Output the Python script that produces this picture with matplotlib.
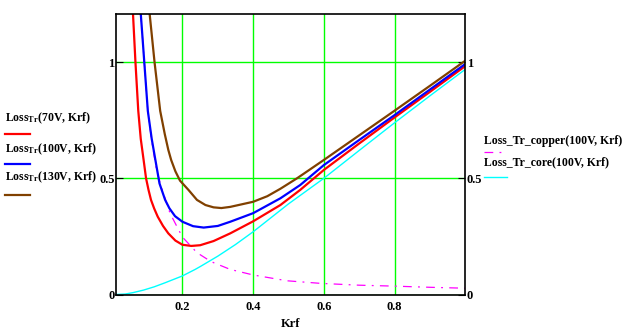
import matplotlib
matplotlib.use('Agg')
import matplotlib.pyplot as plt
from matplotlib.lines import Line2D

# values
x_70 = [0.060, 0.067, 0.075, 0.082, 0.090, 0.097, 0.104, 0.111, 0.120, 0.130,
        0.145, 0.160, 0.180, 0.200, 0.225, 0.250, 0.288, 0.335, 0.400, 0.477,
        0.533, 0.600, 0.700, 0.800, 0.900, 1.000]
loss_70 = [1.21, 1.00, 0.79, 0.67, 0.58, 0.50, 0.45, 0.407, 0.37, 0.335,
           0.295, 0.263, 0.232, 0.214, 0.209, 0.212, 0.230, 0.263, 0.315, 0.385,
           0.450, 0.536, 0.650, 0.762, 0.872, 0.983]

x_100 = [0.082, 0.092, 0.102, 0.113, 0.125, 0.135, 0.151, 0.163, 0.179, 0.200,
         0.230, 0.260, 0.300, 0.335, 0.400, 0.477, 0.533, 0.600, 0.700, 0.800,
         0.900, 1.000]
loss_100 = [1.21, 1.00, 0.79, 0.67, 0.565, 0.478, 0.407, 0.371, 0.337, 0.313,
            0.294, 0.288, 0.295, 0.313, 0.350, 0.414, 0.471, 0.557, 0.665, 0.772,
            0.882, 0.992]

x_130 = [0.107, 0.121, 0.137, 0.150, 0.160, 0.168, 0.180, 0.193, 0.217, 0.241,
         0.265, 0.288, 0.310, 0.335, 0.400, 0.440, 0.477, 0.524, 0.600, 0.700,
         0.800, 0.900, 1.000]
loss_130 = [1.21, 1.00, 0.79, 0.69, 0.622, 0.579, 0.530, 0.490, 0.450, 0.407,
            0.385, 0.375, 0.372, 0.377, 0.399, 0.423, 0.455, 0.500, 0.579, 0.685,
            0.791, 0.898, 1.006]

x_copper = [0.082, 0.092, 0.102, 0.113, 0.125, 0.137, 0.146, 0.165, 0.192, 0.203,
            0.241, 0.269, 0.288, 0.335, 0.400, 0.496, 0.590, 0.700, 0.800, 0.900,
            1.000]
copper_100 = [1.21, 1.00, 0.79, 0.66, 0.55, 0.478, 0.435, 0.349, 0.270, 0.242,
              0.180, 0.153, 0.137, 0.108, 0.084, 0.059, 0.048, 0.040, 0.036, 0.031,
              0.027]

x_core = [0.012, 0.038, 0.060, 0.090, 0.120, 0.150, 0.200, 0.236, 0.250, 0.300,
          0.350, 0.400, 0.500, 0.600, 0.700, 0.800, 0.900, 1.000]
core_100 = [0.0, 0.002, 0.008, 0.019, 0.033, 0.050, 0.080, 0.108, 0.120, 0.165,
            0.215, 0.270, 0.390, 0.500, 0.620, 0.739, 0.855, 0.969]

x_ticks = [0.2, 0.4, 0.6, 0.8]
y_ticks = [0, 0.5, 1]
y_tick_labels = ['0', '0.5', '1']

plt.rcParams['font.family'] = 'Liberation Serif'
plt.rcParams['font.weight'] = 'bold'
plt.rcParams['mathtext.fontset'] = 'custom'
plt.rcParams['mathtext.rm'] = 'Liberation Serif:bold'
plt.rcParams['mathtext.it'] = 'Liberation Serif:bold'
plt.rcParams['mathtext.bf'] = 'Liberation Serif:bold'

W, H = 629, 333
fig = plt.figure(figsize=(W / 100, H / 100), dpi=100)
ax = fig.add_axes([116 / W, 1 - 294.5 / H, (465.3 - 116) / W, (294.5 - 14) / H])

ax.plot(x_core, core_100, color='#00ffff', lw=1.0)
ax.plot(x_copper, copper_100, color='#ff00ff', lw=0.9, linestyle=(0, (7, 5, 1.5, 5)))
ax.plot(x_70, loss_70, color='#ff0000', lw=1.6)
ax.plot(x_100, loss_100, color='#0000ff', lw=1.6)
ax.plot(x_130, loss_130, color='#804000', lw=1.6)

ax.set_xlim(0.012, 1.0)
ax.set_ylim(0, 1.207)
ax.set_xticks(x_ticks)
ax.set_xticklabels([str(t) for t in x_ticks])
ax.set_yticks(y_ticks)
ax.set_yticklabels(y_tick_labels)
ax.grid(True, color='#00ff00', lw=1.0)
ax.set_axisbelow(True)
ax.tick_params(axis='x', length=0, pad=5, labelsize=9)
ax.tick_params(axis='y', which='both', direction='in', length=5, pad=1,
               labelsize=9, left=True, right=True, labelleft=True, labelright=True,
               color='black')
for s in ax.spines.values():
    s.set_color('black')
    s.set_linewidth(1.2)
ax.set_xlabel('Krf', fontsize=9, fontweight='bold', labelpad=3)

# legend texts and samples, placed in pixels
def px(x, y):
    return x / W, 1 - y / H

left_items = [
    (r'Loss$_{\mathrm{Tr}}$(70V, Krf)', '#ff0000', 121, 133.5),
    (r'Loss$_{\mathrm{Tr}}$(100V, Krf)', '#0000ff', 152, 163.5),
    (r'Loss$_{\mathrm{Tr}}$(130V, Krf)', '#804000', 180, 194.5),
]
for label, color, ty, ly in left_items:
    fig.text(*px(5, ty), label, fontsize=8.5, fontweight='bold', va='baseline')
    fig.add_artist(Line2D([5 / W, 30 / W], [1 - ly / H] * 2, color=color, lw=1.6))

fig.text(*px(484, 144), 'Loss_Tr_copper(100V, Krf)', fontsize=8.5,
         fontweight='bold', va='baseline')
fig.add_artist(Line2D([484 / W, 502 / W], [1 - 151.5 / H] * 2, color='#ff00ff',
                      lw=0.9, linestyle=(0, (7, 5, 1.5, 5))))
fig.text(*px(484, 165), 'Loss_Tr_core(100V, Krf)', fontsize=8.5,
         fontweight='bold', va='baseline')
fig.add_artist(Line2D([484 / W, 507 / W], [1 - 176.5 / H] * 2, color='#00ffff', lw=1.0))

fig.savefig('out.png', dpi=100)
